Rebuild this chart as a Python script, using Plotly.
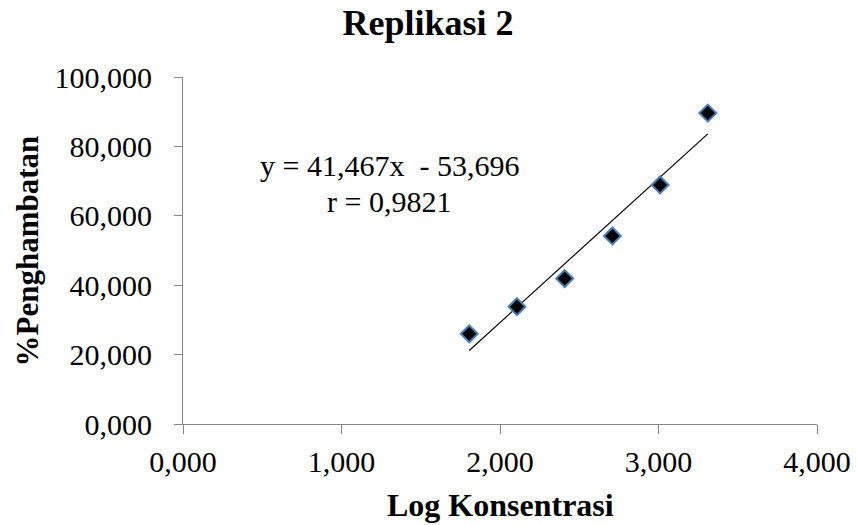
import plotly.graph_objects as go

log_konsentrasi = [1.806, 2.107, 2.408, 2.709, 3.010, 3.311]
penghambatan = [26.0, 33.8, 41.9, 54.2, 68.9, 89.6]
slope = 41.467
intercept = -53.696
r_value = 0.9821

x_ticks = [0, 1, 2, 3, 4]
y_ticks = [0, 20, 40, 60, 80, 100]

serif = "Liberation Serif, Times New Roman, serif"

fig = go.Figure()
xline = [min(log_konsentrasi), max(log_konsentrasi)]
fig.add_trace(go.Scatter(x=xline, y=[slope * v + intercept for v in xline], mode="lines",
                         line=dict(color="black", width=1.2), showlegend=False, hoverinfo="skip"))
fig.add_trace(go.Scatter(x=log_konsentrasi, y=penghambatan, mode="markers",
                         marker=dict(symbol="diamond", size=13, color="black",
                                     line=dict(color="#4a7ebb", width=2)),
                         showlegend=False))

fig.add_annotation(x=1.30, y=74.4, xref="x", yref="y",
                   text="y = 41,467x  - 53,696", showarrow=False,
                   font=dict(family=serif, size=30, color="black"))
fig.add_annotation(x=1.30, y=64.0, xref="x", yref="y",
                   text="r = 0,9821", showarrow=False,
                   font=dict(family=serif, size=30, color="black"))

# axis titles
fig.add_annotation(x=0.5, y=-0.2334, xref="paper", yref="paper", xanchor="center", yanchor="middle",
                   text="<b>Log Konsentrasi</b>", showarrow=False,
                   font=dict(family=serif, size=32, color="black"))
fig.add_annotation(x=-0.2445, y=0.5, xref="paper", yref="paper", xanchor="center", yanchor="middle",
                   text="<b>%Penghambatan</b>", showarrow=False, textangle=-90,
                   font=dict(family=serif, size=31, color="black"))

fig.update_layout(
    width=856, height=525,
    margin=dict(l=183, r=39, t=77, b=101),
    paper_bgcolor="white", plot_bgcolor="white",
    separators=",.",
    title=dict(text="<b>Replikasi 2</b>", x=0.5, xanchor="center", y=0.9573, yanchor="middle",
               font=dict(family=serif, size=36, color="black")),
    font=dict(family=serif, size=30, color="black"),
)
fig.update_xaxes(range=[0, 4], tickvals=x_ticks, tickformat=".3f", showgrid=False, zeroline=False,
                 showline=True, linecolor="#868686", linewidth=1, ticks="outside", ticklen=9,
                 tickcolor="#868686", ticklabelstandoff=2, ticklabeloverflow="allow",
                 automargin=False)
fig.update_yaxes(range=[0, 100], tickvals=y_ticks, tickformat=".3f", showgrid=False, zeroline=False,
                 showline=True, linecolor="#868686", linewidth=1, ticks="outside", ticklen=8,
                 tickcolor="#868686", ticklabelstandoff=16, automargin=False)

fig.write_html("out.html", config={"displayModeBar": False},
               post_script="document.body.style.margin='0';document.body.style.overflow='hidden';")
